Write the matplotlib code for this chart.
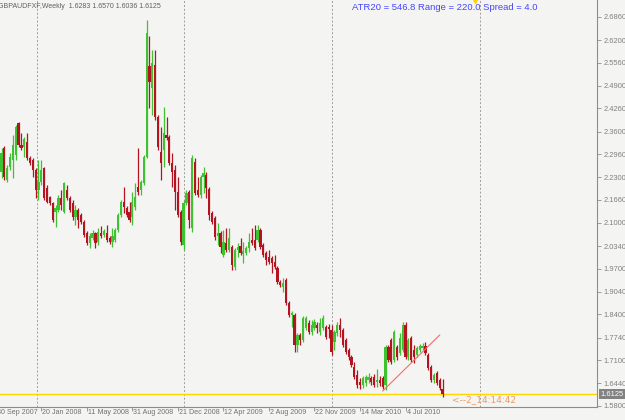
import matplotlib
matplotlib.use("Agg")
import matplotlib.pyplot as plt
import matplotlib.transforms as mtransforms
import numpy as np

plt.rcParams["font.family"] = ["Liberation Sans", "DejaVu Sans"]

# weekly GBPAUD bars (oldest first)
opens = [
    2.245, 2.313, 2.222, 2.259, 2.279, 2.293, 2.384, 2.322, 2.316, 2.330,
    2.285, 2.279, 2.251, 2.194, 2.216, 2.256, 2.199, 2.174, 2.157, 2.131,
    2.137, 2.171, 2.131, 2.194, 2.171, 2.157, 2.117, 2.137, 2.123, 2.103,
    2.071, 2.043, 2.057, 2.071, 2.046, 2.071, 2.066, 2.071, 2.057, 2.046,
    2.051, 2.080, 2.123, 2.160, 2.142, 2.131, 2.117, 2.145, 2.202, 2.194,
    2.214, 2.288, 2.546, 2.484, 2.549, 2.401, 2.302, 2.308, 2.350, 2.344,
    2.271, 2.251, 2.188, 2.131, 2.037, 2.157, 2.188, 2.086, 2.273, 2.194,
    2.179, 2.231, 2.236, 2.197, 2.128, 2.114, 2.063, 2.071, 2.009, 2.043,
    2.023, 2.032, 1.975, 2.023, 2.034, 2.012, 2.014, 2.029, 2.051, 2.051,
    2.051, 2.080, 2.037, 2.014, 2.003, 2.000, 1.989, 1.972, 1.932, 1.918,
    1.938, 1.872, 1.838, 1.838, 1.753, 1.781, 1.767, 1.801, 1.815, 1.790,
    1.801, 1.810, 1.790, 1.801, 1.804, 1.804, 1.795, 1.761, 1.787, 1.810,
    1.795, 1.767, 1.739, 1.719, 1.690, 1.667, 1.647, 1.639, 1.645, 1.653,
    1.659, 1.662, 1.647, 1.653, 1.659, 1.639, 1.747, 1.767, 1.710, 1.747,
    1.730, 1.739, 1.810, 1.719, 1.773, 1.739, 1.724, 1.739, 1.744, 1.750,
    1.724, 1.690, 1.653, 1.673, 1.653, 1.6283,
]
highs = [
    2.313, 2.319, 2.265, 2.299, 2.350, 2.379, 2.387, 2.356, 2.344, 2.356,
    2.290, 2.285, 2.256, 2.279, 2.279, 2.259, 2.208, 2.177, 2.160, 2.151,
    2.179, 2.194, 2.216, 2.208, 2.177, 2.165, 2.151, 2.142, 2.128, 2.108,
    2.077, 2.071, 2.080, 2.074, 2.086, 2.091, 2.083, 2.094, 2.063, 2.086,
    2.086, 2.128, 2.165, 2.202, 2.148, 2.160, 2.188, 2.214, 2.313, 2.222,
    2.293, 2.677, 2.632, 2.592, 2.592, 2.407, 2.373, 2.430, 2.401, 2.350,
    2.299, 2.265, 2.231, 2.137, 2.165, 2.194, 2.194, 2.293, 2.285, 2.231,
    2.236, 2.259, 2.245, 2.202, 2.134, 2.120, 2.100, 2.077, 2.080, 2.086,
    2.086, 2.037, 2.029, 2.043, 2.057, 2.046, 2.034, 2.071, 2.086, 2.094,
    2.094, 2.086, 2.043, 2.020, 2.023, 2.006, 2.009, 1.977, 1.938, 1.943,
    1.943, 1.878, 1.849, 1.844, 1.787, 1.787, 1.835, 1.835, 1.824, 1.824,
    1.827, 1.818, 1.830, 1.838, 1.810, 1.812, 1.810, 1.795, 1.818, 1.830,
    1.801, 1.773, 1.744, 1.724, 1.704, 1.682, 1.659, 1.665, 1.667, 1.673,
    1.665, 1.670, 1.684, 1.665, 1.665, 1.753, 1.753, 1.773, 1.795, 1.753,
    1.787, 1.818, 1.818, 1.773, 1.778, 1.753, 1.750, 1.756, 1.758, 1.761,
    1.730, 1.696, 1.673, 1.679, 1.659, 1.6570,
]
lows = [
    2.228, 2.222, 2.216, 2.251, 2.228, 2.279, 2.316, 2.308, 2.288, 2.279,
    2.265, 2.231, 2.171, 2.165, 2.208, 2.165, 2.157, 2.151, 2.103, 2.088,
    2.131, 2.137, 2.128, 2.165, 2.131, 2.108, 2.094, 2.086, 2.097, 2.060,
    2.037, 2.029, 2.051, 2.029, 2.037, 2.057, 2.060, 2.046, 2.040, 2.031,
    2.046, 2.074, 2.117, 2.128, 2.117, 2.103, 2.094, 2.137, 2.179, 2.179,
    2.208, 2.285, 2.427, 2.407, 2.393, 2.308, 2.222, 2.259, 2.336, 2.265,
    2.202, 2.137, 2.117, 2.037, 2.023, 2.151, 2.086, 2.074, 2.179, 2.174,
    2.171, 2.185, 2.171, 2.108, 2.097, 2.051, 2.037, 2.014, 2.003, 2.017,
    2.017, 1.966, 1.966, 2.003, 2.009, 1.986, 2.009, 2.017, 2.037, 2.023,
    2.046, 2.026, 2.003, 1.980, 1.983, 1.958, 1.969, 1.926, 1.918, 1.904,
    1.867, 1.832, 1.804, 1.733, 1.733, 1.753, 1.761, 1.795, 1.784, 1.781,
    1.795, 1.787, 1.781, 1.795, 1.770, 1.773, 1.724, 1.739, 1.778, 1.775,
    1.747, 1.727, 1.710, 1.690, 1.656, 1.630, 1.628, 1.630, 1.636, 1.645,
    1.639, 1.633, 1.633, 1.636, 1.628, 1.625, 1.704, 1.699, 1.704, 1.710,
    1.724, 1.733, 1.713, 1.710, 1.704, 1.702, 1.719, 1.733, 1.739, 1.724,
    1.682, 1.647, 1.645, 1.639, 1.625, 1.6036,
]
closes = [
    2.299, 2.231, 2.256, 2.288, 2.322, 2.373, 2.322, 2.313, 2.339, 2.285,
    2.271, 2.251, 2.194, 2.216, 2.251, 2.171, 2.160, 2.157, 2.108, 2.142,
    2.171, 2.151, 2.214, 2.171, 2.137, 2.117, 2.137, 2.108, 2.103, 2.066,
    2.043, 2.063, 2.071, 2.043, 2.074, 2.063, 2.077, 2.051, 2.046, 2.063,
    2.080, 2.123, 2.160, 2.145, 2.123, 2.108, 2.160, 2.174, 2.188, 2.216,
    2.288, 2.640, 2.501, 2.555, 2.401, 2.316, 2.271, 2.356, 2.342, 2.271,
    2.245, 2.188, 2.123, 2.046, 2.157, 2.185, 2.108, 2.285, 2.185, 2.179,
    2.231, 2.242, 2.199, 2.123, 2.103, 2.060, 2.071, 2.032, 2.046, 2.023,
    2.057, 1.980, 2.023, 2.032, 2.014, 2.020, 2.029, 2.046, 2.043, 2.029,
    2.080, 2.032, 2.009, 1.995, 1.989, 1.986, 1.975, 1.932, 1.923, 1.929,
    1.872, 1.838, 1.844, 1.753, 1.781, 1.767, 1.830, 1.830, 1.790, 1.810,
    1.818, 1.801, 1.815, 1.830, 1.775, 1.798, 1.733, 1.790, 1.810, 1.795,
    1.753, 1.733, 1.719, 1.696, 1.662, 1.639, 1.639, 1.659, 1.662, 1.662,
    1.647, 1.639, 1.653, 1.645, 1.633, 1.747, 1.710, 1.704, 1.790, 1.719,
    1.773, 1.810, 1.719, 1.767, 1.710, 1.719, 1.744, 1.750, 1.750, 1.730,
    1.687, 1.653, 1.667, 1.645, 1.630, 1.6125,
]

date_labels = ["30 Sep 2007", "20 Jan 2008", "11 May 2008", "31 Aug 2008", "21 Dec 2008",
               "12 Apr 2009", "2 Aug 2009", "22 Nov 2009", "14 Mar 2010", "4 Jul 2010"]
date_bars = [-2, 14, 30, 46, 62, 78, 94, 110, 126, 142]   # bar index of each label
year_start_bars = [12, 64, 116, 168]                     # period separators
price_labels = ["1.5800", "1.6440", "1.7100", "1.7740", "1.8400", "1.9040", "1.9700",
                "2.0340", "2.1000", "2.1660", "2.2300", "2.2960", "2.3600", "2.4260",
                "2.4900", "2.5560", "2.6200", "2.6860"]
last_bid = 1.6125
trend_bars = [134, 154]
trend_prices = [1.622, 1.781]

BG = "#f4f4f2"
UP, DOWN = "#3fc232", "#b3141f"
AXC = "#8c8c8c"

fig = plt.figure(figsize=(6.25, 4.2), dpi=100, facecolor=BG)
ax = fig.add_axes([0, 13 / 420, 597 / 625, 407 / 420], facecolor=BG)

o, h, l, c = map(np.asarray, (opens, highs, lows, closes))
idx = np.arange(len(c))
col = np.where(c >= o, UP, DOWN)

ax.vlines(idx, l, h, colors=col, lw=0.9, zorder=3)
ax.bar(idx, np.maximum(np.abs(c - o), 0.002), bottom=np.minimum(o, c), width=0.78,
       color=col, linewidth=0, zorder=4)

for b in year_start_bars:
    ax.axvline(b + 0.3, color="#a09c9c", lw=0.7, ls=(0, (2, 2)), zorder=1)

ax.axhline(last_bid, color="#ffd700", lw=1.0, zorder=2)
ax.plot(trend_bars, trend_prices, color="#ff6a6a", lw=0.8, zorder=5)

ax.set_xlim(-0.53, 209.3)
ax.set_ylim(1.5763, 2.7342)

for s in ("top", "left"):
    ax.spines[s].set_visible(False)
for s in ("right", "bottom"):
    ax.spines[s].set_color(AXC)
    ax.spines[s].set_linewidth(0.8)

ax.yaxis.tick_right()
ax.set_yticks([float(p) for p in price_labels])
ax.set_yticklabels(price_labels)
ax.tick_params(axis="y", length=3, width=0.6, color=AXC, pad=1.5,
               labelsize=5.4, labelcolor="#808080")
ax.set_xticks([b for b in date_bars if b >= 0])
ax.set_xticklabels([])
ax.tick_params(axis="x", length=3, width=0.6, color=AXC)

xt = mtransforms.blended_transform_factory(ax.transData, ax.transAxes)
xt = mtransforms.offset_copy(xt, fig=fig, x=1, y=-2.5, units="dots")
for b, lab in zip(date_bars, date_labels):
    ax.text(b, 0, lab, transform=xt, ha="left", va="top", fontsize=5.1,
            color="#707070", clip_on=False)

# current price box on the price scale
pt = mtransforms.blended_transform_factory(ax.transAxes, ax.transData)
pt = mtransforms.offset_copy(pt, fig=fig, x=3, y=0, units="dots")
ax.text(1.0, last_bid, f"{last_bid:.4f}", transform=pt, ha="left", va="center",
        fontsize=5.4, color="white", clip_on=False,
        bbox=dict(boxstyle="square,pad=0.2", fc="#828282", ec="none"))

ax.annotate("<--2_14:14:42", xy=(len(c) - 1, last_bid), xytext=(9, -5),
            textcoords="offset pixels", ha="left", va="center", fontsize=6.5,
            color="#ee9a66", family="DejaVu Sans")

ax.plot(166.4, 2.7342, marker="v", ms=4, color="#ffd700", clip_on=False, zorder=6)

fig.text(-2 / 625, 1 - 7 / 420, "GBPAUDFXF,Weekly  1.6283 1.6570 1.6036 1.6125",
         ha="left", va="center", fontsize=5, color="#606060")
fig.text(352 / 625, 1 - 7.5 / 420, "ATR20 = 546.8 Range = 220.0 Spread = 4.0",
         ha="left", va="center", fontsize=6.8, color="#4646ff")

fig.savefig("out.png", dpi=100, facecolor=BG)
